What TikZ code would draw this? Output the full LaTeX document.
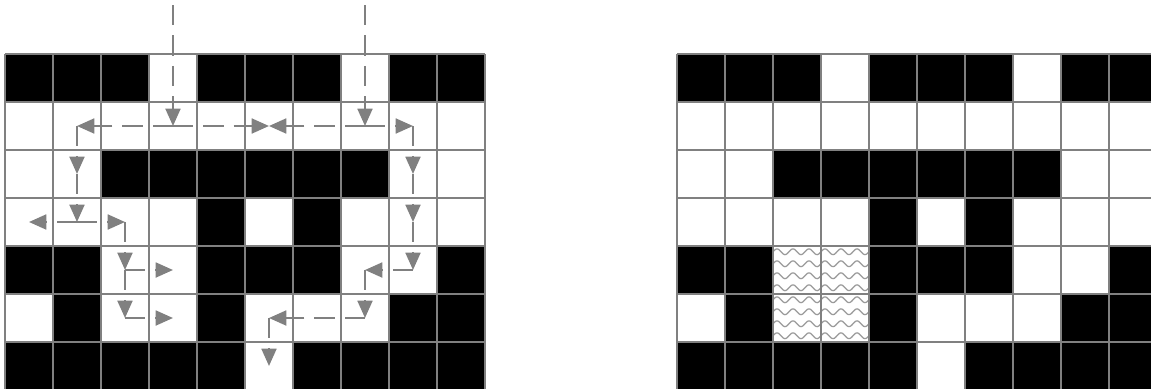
\documentclass[tikz,border=0pt]{standalone}
\usepackage{xcolor}
\usepackage{tikz}
\usetikzlibrary{arrows.meta}
\definecolor{mgray}{HTML}{808080}
\definecolor{wgray}{HTML}{9A9A9A}

\newcommand{\mazewalls}{%
  \fill[black] (0,0) rectangle (3,-1);
  \fill[black] (4,0) rectangle (7,-1);
  \fill[black] (8,0) rectangle (10,-1);
  \fill[black] (2,-2) rectangle (8,-3);
  \fill[black] (4,-3) rectangle (5,-4);
  \fill[black] (6,-3) rectangle (7,-4);
  \fill[black] (0,-4) rectangle (2,-5);
  \fill[black] (4,-4) rectangle (7,-5);
  \fill[black] (9,-4) rectangle (10,-5);
  \fill[black] (1,-5) rectangle (2,-6);
  \fill[black] (4,-5) rectangle (5,-6);
  \fill[black] (8,-5) rectangle (10,-6);
  \fill[black] (0,-6) rectangle (5,-7);
  \fill[black] (6,-6) rectangle (10,-7);
}

\begin{document}
\begin{tikzpicture}[x=1cm, y=1cm,
  gridline/.style={mgray, line width=1.3pt},
  flow/.style={mgray, line width=1.3pt, dash pattern=on 12pt off 6pt,
    -{Triangle[length=0.36cm, width=0.31cm]}},
  water/.style={wgray, line width=0.75pt}]
\useasboundingbox (-0.104,1.125) rectangle (23.875,-6.979);
\clip (-0.104,1.125) rectangle (23.875,-6.979);
% left grid with the flow
\mazewalls
\draw[gridline] (0,-7) grid (10,0);
\foreach \r in {0,...,6}
  \foreach \c in {0,...,9}
    \coordinate (c\r\c) at (\c+0.5,-\r-0.5);
\coordinate (in3) at (3.5,1.02);
\coordinate (in7) at (7.5,1.02);
\draw[flow] (in3) -- (c13);
\draw[flow] (in7) -- (c17);
\draw[flow] (c13) -- (c11);
\draw[flow] (c13) -- (c15);
\draw[flow] (c17) -- (c15);
\draw[flow] (c17) -- (c18);
\draw[flow] (c11) -- (c21);
\draw[flow] (c21) -- (c31);
\draw[flow] (c31) -- (c30);
\draw[flow] (c31) -- (c32);
\draw[flow] (c32) -- (c42);
\draw[flow] (c42) -- (c52);
\draw[flow] (c42) -- (c43);
\draw[flow] (c52) -- (c53);
\draw[flow] (c18) -- (c28);
\draw[flow] (c28) -- (c38);
\draw[flow] (c38) -- (c48);
\draw[flow] (c48) -- (c47);
\draw[flow] (c47) -- (c57);
\draw[flow] (c57) -- (c55);
\draw[flow] (c55) -- (c65);
% right grid with the pool
\begin{scope}[xshift=14cm]
\mazewalls
\begin{scope}
\clip (2,-4) rectangle (4,-6);
\foreach \k in {0,...,7}
  \draw[water, domain=2:4, samples=90] plot (\x, {-4.12-0.25*\k+0.06*sin(1080*\x)});
\end{scope}
\draw[gridline] (0,-7) grid (10,0);
\end{scope}
\end{tikzpicture}
\end{document}
